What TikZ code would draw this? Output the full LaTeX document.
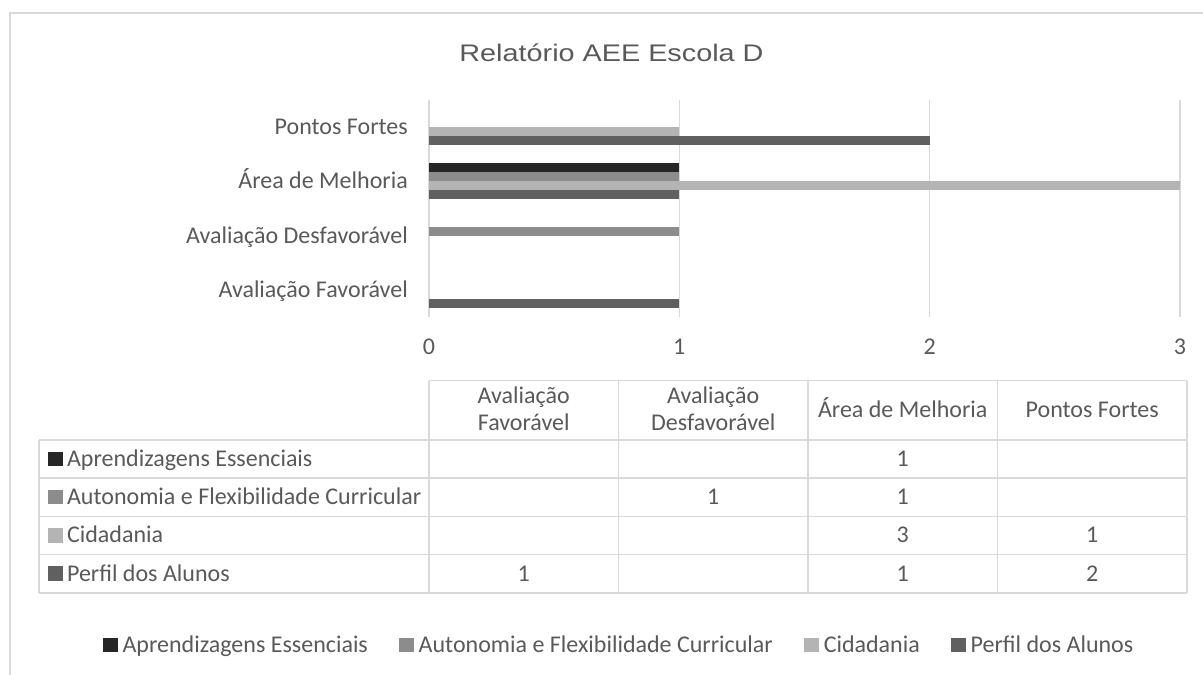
\documentclass[tikz,border=0pt]{standalone}
\usepackage{fontspec}
\setmainfont{Carlito}
\newfontfamily\titlefont[FakeStretch=1.2]{Liberation Sans}
\usetikzlibrary{positioning}

\definecolor{txtgray}{HTML}{595959}
\definecolor{gridgray}{HTML}{D9D9D9}
\definecolor{aprend}{HTML}{262626}
\definecolor{auton}{HTML}{8C8C8C}
\definecolor{cidad}{HTML}{B4B4B4}
\definecolor{perfil}{HTML}{606060}

\tikzset{
  lbl/.style={inner sep=0pt, text=txtgray, font=\fontsize{24}{27.5}\selectfont},
  cat/.style={lbl, anchor=base east},
  val/.style={lbl, anchor=base},
  key/.style={inner sep=0pt, minimum size=14.5pt, anchor=south west},
  gridln/.style={draw=gridgray, line width=1.5pt},
}

\begin{document}
\begin{tikzpicture}[x=1pt,y=-1pt]
\useasboundingbox (0,0) rectangle (1203,675);
\draw[gridgray, line width=1.3pt] (10,675) -- (10,13) -- (1203,13);

\node (title) [lbl, font=\titlefont\fontsize{24}{28}\selectfont] at (611.5,53) {Relatório AEE Escola D};

% value axis
\foreach \v in {0,...,3} \draw[gridln] ({429+250.3*\v},100) -- ({429+250.3*\v},317);
\foreach \v in {0,...,3} \node (tick\v) [val] at ({429+250.3*\v},354) {\v};

% bars: category / series / value / colour
\foreach \c/\s/\v/\col in {0/2/1/cidad, 0/3/2/perfil, 1/0/1/aprend, 1/1/1/auton,
    1/2/3/cidad, 1/3/1/perfil, 2/1/1/auton, 3/3/1/perfil}
  \fill[\col] (429,{100+54.25*(\c+0.5)-18+9*\s}) rectangle ({429+250.3*\v},{100+54.25*(\c+0.5)-9+9*\s});

\foreach \t [count=\i] in {Pontos Fortes, Área de Melhoria, Avaliação Desfavorável, Avaliação Favorável}
  \node (cat\i) [cat] at (408,{100+54.25*(\i-0.5)+7.5}) {\t};

% data table
\draw[gridln] (429,380.7) -- (1187,380.7);
\foreach \y in {440,478.2,516.4,554.6,592.8} \draw[gridln] (39,\y) -- (1187,\y);
\draw[gridln] (39,440) -- (39,592.8);
\foreach \x in {429,618.5,808,997.5,1187} \draw[gridln] (\x,380.7) -- (\x,592.8);

\node (hd1) [lbl, align=center] at (523.75,409) {Avaliação\\Favorável};
\node (hd2) [lbl, align=center] at (713.25,409) {Avaliação\\Desfavorável};
\node (hd3) [val] at (902.75,417) {Área de Melhoria};
\node (hd4) [val] at (1092.25,417) {Pontos Fortes};

\foreach \t/\col [count=\i] in {Aprendizagens Essenciais/aprend, Autonomia e Flexibilidade Curricular/auton,
    Cidadania/cidad, Perfil dos Alunos/perfil}{
  \node (rk\i) [key, fill=\col] at (48,{440+38.2*(\i-0.5)+7.3}) {};
  \node (rl\i) [lbl, right=4pt of rk\i.south east, anchor=base west] {\t};
}

\node (v12) [val] at (902.75,466.4) {1};
\node (v21) [val] at (713.25,504.6) {1};
\node (v22) [val] at (902.75,504.6) {1};
\node (v32) [val] at (902.75,542.8) {3};
\node (v33) [val] at (1092.25,542.8) {1};
\node (v40) [val] at (523.75,581) {1};
\node (v42) [val] at (902.75,581) {1};
\node (v43) [val] at (1092.25,581) {2};

% legend
\node (lg1) [key, fill=aprend] at (103,652.5) {};
\node (lt1) [lbl, right=4.5pt of lg1.south east, anchor=base west] {Aprendizagens Essenciais};
\node (lg2) [key, fill=auton, right=31pt of lt1.base east, anchor=south west] {};
\node (lt2) [lbl, right=4.5pt of lg2.south east, anchor=base west] {Autonomia e Flexibilidade Curricular};
\node (lg3) [key, fill=cidad, right=31pt of lt2.base east, anchor=south west] {};
\node (lt3) [lbl, right=4.5pt of lg3.south east, anchor=base west] {Cidadania};
\node (lg4) [key, fill=perfil, right=31pt of lt3.base east, anchor=south west] {};
\node (lt4) [lbl, right=4.5pt of lg4.south east, anchor=base west] {Perfil dos Alunos};
\end{tikzpicture}
\end{document}
